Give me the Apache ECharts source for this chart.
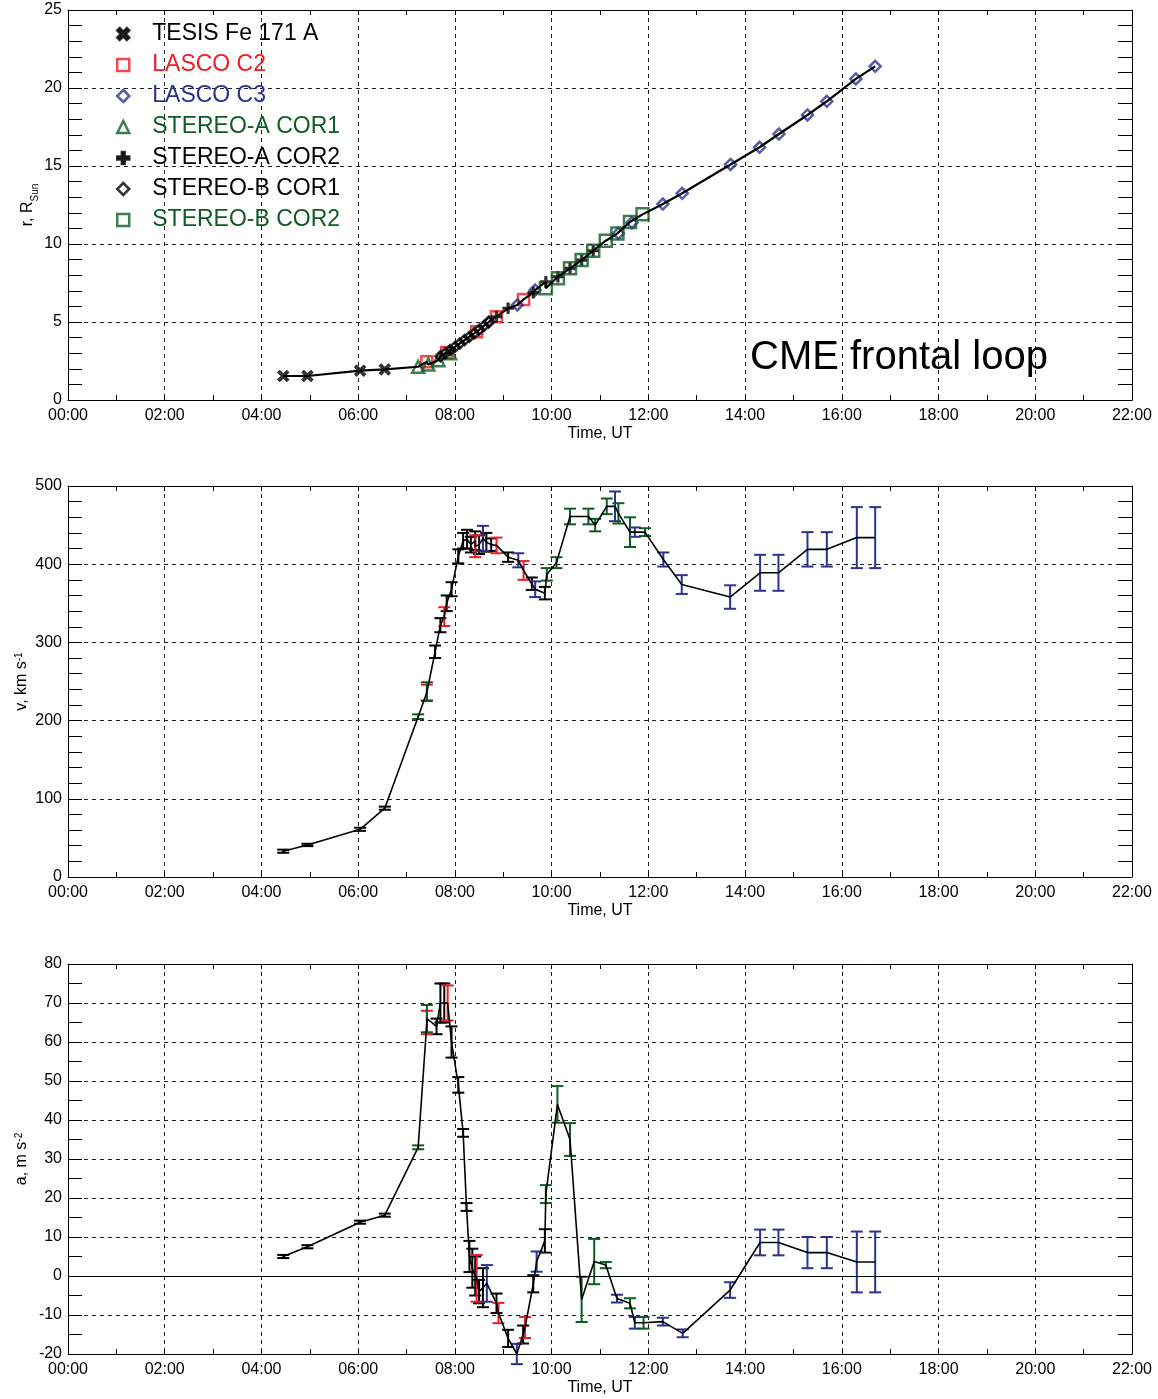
<!DOCTYPE html>
<html>
<head>
<meta charset="utf-8">
<script src="https://cdn.jsdelivr.net/npm/echarts@6/dist/echarts.min.js"></script>
<style>
html, body { margin: 0; padding: 0; background: #fff; }
#chart { width: 1158px; height: 1399px; }
</style>
</head>
<body>
<div id="chart"></div>
<script>
// time in hours UT
const timeTicks = [0, 2, 4, 6, 8, 10, 12, 14, 16, 18, 20, 22];
const instruments = ['TESIS Fe 171 A', 'LASCO C2', 'LASCO C3', 'STEREO-A COR1', 'STEREO-A COR2', 'STEREO-B COR1', 'STEREO-B COR2'];

// ---- r, R_sun : [time, r]
const rTesis = [[4.45, 1.54], [4.95, 1.54], [6.04, 1.88], [6.55, 1.96]];
const rC2 = [[7.42, 2.45], [7.83, 3.05], [8.45, 4.38], [8.86, 5.34], [9.42, 6.45]];
const rC3 = [[8.70, 5.0], [9.29, 6.09], [9.66, 7.05], [11.38, 10.68], [11.66, 11.37], [12.30, 12.56], [12.70, 13.25],
  [13.70, 15.1], [14.30, 16.2], [14.70, 17.05], [15.29, 18.27], [15.69, 19.15], [16.29, 20.58], [16.69, 21.39]];
const rCor1A = [[7.24, 2.13], [7.45, 2.28], [7.66, 2.55], [7.90, 2.99]];
const rCor2A = [[8.86, 5.34], [9.10, 5.88], [9.62, 6.88], [9.88, 7.58], [10.13, 7.9], [10.38, 8.44], [10.62, 8.97], [10.86, 9.57]];
const rCor1B = [[7.70, 2.8], [7.80, 3.0], [7.90, 3.2], [8.00, 3.4], [8.10, 3.62], [8.20, 3.84], [8.30, 4.06],
  [8.40, 4.27], [8.50, 4.5], [8.60, 4.75], [8.70, 5.0]];
const rCor2B = [[9.88, 7.16], [10.13, 7.80], [10.38, 8.44], [10.62, 8.97], [10.86, 9.57], [11.12, 10.21],
  [11.36, 10.68], [11.62, 11.41], [11.88, 11.9]];

// ---- v, km/s : [time, v, err]
const vTesis = [[4.45, 33, 2], [4.95, 41, 1.5], [6.04, 61, 2], [6.55, 88, 2]];
const vC2 = [[7.42, 236, 10], [7.78, 333, 12], [8.42, 423, 14], [8.86, 424, 10], [9.42, 392, 12]];
const vC3 = [[8.58, 433, 16], [9.31, 405, 9], [9.66, 368, 10], [11.31, 474, 19], [11.72, 441, 6], [12.31, 406, 9],
  [12.69, 374, 12], [13.69, 358, 15], [14.31, 389, 23], [14.69, 389, 23], [15.29, 419, 22], [15.69, 419, 22],
  [16.31, 434, 39], [16.69, 434, 39]];
const vCor1A = [[7.24, 205, 3], [7.42, 237, 12]];
const vCor2A = [[9.10, 409, 6], [9.59, 375, 8], [9.86, 363, 8]];
const vCor1B = [[7.59, 288, 8], [7.70, 322, 9], [7.83, 350, 10], [7.93, 368, 9], [8.07, 410, 9], [8.17, 430, 10],
  [8.25, 432, 12], [8.33, 425, 10], [8.42, 430, 12], [8.50, 425, 12], [8.65, 428, 12], [8.75, 425, 8]];
const vCor2B = [[9.90, 387, 8], [10.10, 402, 7], [10.38, 461, 10], [10.76, 461, 10], [10.90, 450, 8], [11.14, 474, 10],
  [11.38, 465, 13], [11.62, 441, 19], [11.93, 441, 5]];

// ---- a, m/s^2 : [time, a, err]
const aTesis = [[4.45, 5, 0.4], [4.95, 7.5, 0.4], [6.04, 13.8, 0.4], [6.55, 15.6, 0.4]];
const aC2 = [[7.42, 65, 3], [7.85, 70, 4.5], [8.45, -0.6, 6], [8.90, -9.5, 2.6], [9.45, -13.2, 2.7]];
const aC3 = [[8.66, -1.9, 4.7], [9.28, -20, 2.6], [9.69, 3.7, 2.6], [11.35, -5.8, 1], [11.72, -12, 1.5], [12.30, -11.7, 1],
  [12.71, -14.7, 1], [13.69, -3.6, 2], [14.31, 8.6, 3.3], [14.69, 8.6, 3.3], [15.29, 6, 4], [15.69, 6, 4],
  [16.31, 3.6, 7.8], [16.69, 3.6, 7.8]];
const aCor1A = [[7.24, 33, 0.5], [7.42, 66, 3.5]];
const aCor2A = [[8.86, -7, 2.5], [9.10, -16, 2.2], [9.41, -15, 2.3], [9.62, -2, 2.2], [9.86, 9, 3]];
const aCor1B = [[7.62, 64, 2], [7.70, 70, 5], [7.78, 70, 5], [7.93, 60, 4], [8.07, 49, 2], [8.17, 36.7, 1],
  [8.24, 17.7, 1], [8.30, 5, 4], [8.36, 2, 5], [8.42, 0, 5], [8.50, -4, 3], [8.58, -3, 5]];
const aCor2B = [[9.88, 21, 2.3], [10.12, 44, 4.7], [10.38, 35, 4.2], [10.62, -6, 5.8], [10.88, 3.7, 5.8],
  [11.12, 2.8, 0.8], [11.62, -7, 1.3], [11.90, -12, 1.5]];

const RED = '#ee1c24', BLUE = '#2e3192', GREEN = '#0e5c24', BLACK = '#000';
const FONT = 'Liberation Sans, Arial, sans-serif';

const chart = echarts.init(document.getElementById('chart'));

const pathX = 'path://M2,0 L5,3 L8,0 L10,2 L7,5 L10,8 L8,10 L5,7 L2,10 L0,8 L3,5 L0,2 Z';
const pathPlus = 'path://M3.8,0 H6.2 V3.8 H10 V6.2 H6.2 V10 H3.8 V6.2 H0 V3.8 H3.8 Z';

function fmtTime(v) {
  const h = Math.round(v);
  return (h < 10 ? '0' : '') + h + ':00';
}

function sortedLine(groups) {
  const all = [];
  groups.forEach(g => g.forEach(p => all.push([p[0], p[1]])));
  all.sort((a, b) => a[0] - b[0]);
  return all;
}

function errorBars(data, color, idx) {
  return {
    type: 'custom',
    xAxisIndex: idx, yAxisIndex: idx,
    data: data.map(d => [d[0], d[1] - d[2], d[1] + d[2]]),
    encode: { x: 0, y: [1, 2] },
    silent: true,
    renderItem: function (params, api) {
      const p1 = api.coord([api.value(0), api.value(1)]);
      const p2 = api.coord([api.value(0), api.value(2)]);
      const cap = 6;
      const style = { stroke: color, lineWidth: 2 };
      return {
        type: 'group',
        children: [
          { type: 'line', shape: { x1: p1[0], y1: p1[1], x2: p2[0], y2: p2[1] }, style: style },
          { type: 'line', shape: { x1: p1[0] - cap, y1: p1[1], x2: p1[0] + cap, y2: p1[1] }, style: style },
          { type: 'line', shape: { x1: p2[0] - cap, y1: p2[1], x2: p2[0] + cap, y2: p2[1] }, style: style }
        ]
      };
    }
  };
}

function scatter(name, data, symbol, color, filled, size) {
  return {
    type: 'scatter',
    name: name,
    xAxisIndex: 0, yAxisIndex: 0,
    data: data,
    symbol: symbol,
    symbolSize: size,
    z: 3,
    itemStyle: filled ? { color: color, borderColor: color, borderWidth: 0.5 }
      : { color: 'rgba(0,0,0,0)', borderColor: color, borderWidth: 2.5 }
  };
}

const grids = [
  { left: 68, right: 26, top: 10, height: 390 },
  { left: 68, right: 26, top: 486, height: 391 },
  { left: 68, right: 26, top: 964, height: 390 }
];

const yRanges = [
  { min: 0, max: 25, interval: 5, minor: 5, name: 'r, R{sub|Sun}', gap: 28 },
  { min: 0, max: 500, interval: 100, minor: 5, name: 'v, km s{sup|-1}', gap: 38 },
  { min: -20, max: 80, interval: 10, minor: 2, name: 'a, m s{sup|-2}', gap: 38 }
];

const dashed = { show: true, lineStyle: { color: '#222', type: [4, 4], width: 1 } };

const xAxes = [], yAxes = [];
for (let i = 0; i < 3; i++) {
  xAxes.push({
    type: 'value', gridIndex: i, min: 0, max: 22, interval: 2,
    name: 'Time, UT', nameLocation: 'middle', nameGap: 26, nameMoveOverlap: false,
    nameTextStyle: { fontSize: 16, fontFamily: FONT, color: '#000' },
    axisLine: { onZero: false, lineStyle: { color: '#000', width: 1 } },
    axisTick: { inside: true, length: 5, lineStyle: { color: '#000' } },
    minorTick: { show: true, splitNumber: 2, length: 5, lineStyle: { color: '#000' } },
    axisLabel: { formatter: fmtTime, fontSize: 16, fontFamily: FONT, color: '#000', margin: 8 },
    splitLine: dashed
  });
}
for (let i = 0; i < 3; i++) {
  xAxes.push({
    type: 'value', gridIndex: i, min: 0, max: 22, interval: 2, position: 'top',
    axisLine: { onZero: false, lineStyle: { color: '#000', width: 1 } },
    axisTick: { inside: true, length: 5, lineStyle: { color: '#000' } },
    minorTick: { show: true, splitNumber: 2, length: 5, lineStyle: { color: '#000' } },
    axisLabel: { show: false }, splitLine: { show: false }
  });
}
for (let i = 0; i < 3; i++) {
  const r = yRanges[i];
  yAxes.push({
    type: 'value', gridIndex: i, min: r.min, max: r.max, interval: r.interval,
    name: r.name, nameLocation: 'middle', nameGap: r.gap, nameRotate: 90, nameMoveOverlap: false,
    nameTextStyle: {
      fontSize: 16, fontFamily: FONT, color: '#000',
      rich: {
        sub: { fontSize: 10, fontFamily: FONT, verticalAlign: 'bottom', lineHeight: 24 },
        sup: { fontSize: 10, fontFamily: FONT, verticalAlign: 'top', lineHeight: 10 }
      }
    },
    axisLine: { onZero: false, lineStyle: { color: '#000', width: 1 } },
    axisTick: { inside: true, length: 14, lineStyle: { color: '#000' } },
    minorTick: { show: true, splitNumber: r.minor, length: 14, lineStyle: { color: '#000' } },
    axisLabel: { fontSize: 16, fontFamily: FONT, color: '#000', margin: 6 },
    splitLine: dashed
  });
}
for (let i = 0; i < 3; i++) {
  const r = yRanges[i];
  yAxes.push({
    type: 'value', gridIndex: i, min: r.min, max: r.max, interval: r.interval, position: 'right',
    axisLine: { onZero: false, lineStyle: { color: '#000', width: 1 } },
    axisTick: { inside: true, length: 14, lineStyle: { color: '#000' } },
    minorTick: { show: true, splitNumber: r.minor, length: 14, lineStyle: { color: '#000' } },
    axisLabel: { show: false }, splitLine: { show: false }
  });
}

const series = [
  // panel 1: positions
  scatter(instruments[0], rTesis, pathX, BLACK, true, 12),
  scatter(instruments[1], rC2, 'rect', RED, false, 11),
  scatter(instruments[2], rC3, 'diamond', BLUE, false, 11),
  scatter(instruments[3], rCor1A, 'triangle', GREEN, false, 12),
  scatter(instruments[4], rCor2A, pathPlus, BLACK, true, 11),
  scatter(instruments[5], rCor1B, 'diamond', BLACK, false, 10),
  scatter(instruments[6], rCor2B, 'rect', GREEN, false, 12),
  {
    type: 'line', xAxisIndex: 0, yAxisIndex: 0, silent: true, z: 4,
    data: sortedLine([rTesis, rC2, rC3, rCor1A, rCor2A, rCor1B, rCor2B]),
    showSymbol: false, lineStyle: { color: '#000', width: 2.2 }
  }
];

const vGroups = [[vTesis, BLACK], [vCor1B, BLACK], [vCor2A, BLACK], [vC2, RED], [vC3, BLUE], [vCor1A, GREEN], [vCor2B, GREEN]];
vGroups.forEach(g => series.push(errorBars(g[0], g[1], 1)));
series.push({
  type: 'line', xAxisIndex: 1, yAxisIndex: 1, silent: true, z: 4,
  data: sortedLine(vGroups.map(g => g[0])),
  showSymbol: false, lineStyle: { color: '#000', width: 1.6 }
});

const aGroups = [[aTesis, BLACK], [aCor1B, BLACK], [aCor2A, BLACK], [aC2, RED], [aC3, BLUE], [aCor1A, GREEN], [aCor2B, GREEN]];
aGroups.forEach(g => series.push(errorBars(g[0], g[1], 2)));
series.push({
  type: 'line', xAxisIndex: 2, yAxisIndex: 2, silent: true, z: 4,
  data: sortedLine(aGroups.map(g => g[0])),
  showSymbol: false, lineStyle: { color: '#000', width: 1.6 },
  markLine: {
    silent: true, symbol: ['none', 'none'], label: { show: false },
    lineStyle: { color: '#000', type: 'solid', width: 1 },
    data: [{ yAxis: 0 }]
  }
});

const legendColors = [BLACK, RED, BLUE, GREEN, BLACK, BLACK, GREEN];

chart.setOption({
  animation: false,
  backgroundColor: '#fff',
  title: {
    text: 'CME frontal loop', left: 745, top: 333,
    textStyle: { fontSize: 40, fontWeight: 'normal', fontFamily: FONT, color: '#000' }
  },
  legend: {
    orient: 'vertical', left: 111, top: 17,
    itemWidth: 12, itemHeight: 12, itemGap: 7,
    selectedMode: false,
    itemStyle: { borderWidth: 2.5 },
    data: instruments.map((n, i) => ({ name: n, textStyle: { color: legendColors[i] } })),
    textStyle: { fontSize: 23, fontFamily: FONT, lineHeight: 24, padding: [0, 0, 0, 18] }
  },
  grid: grids,
  xAxis: xAxes,
  yAxis: yAxes,
  series: series
});
</script>
</body>
</html>
